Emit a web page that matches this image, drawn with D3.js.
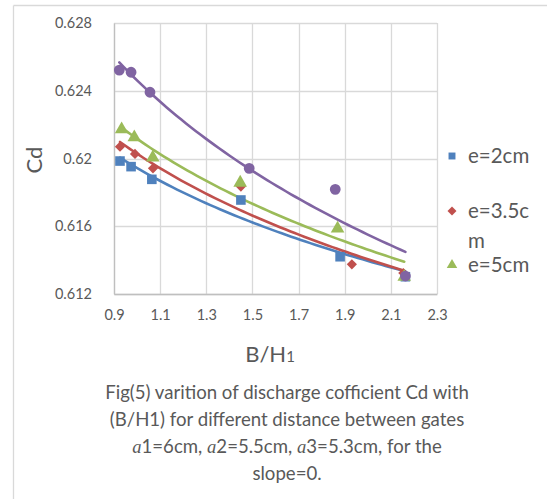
<!DOCTYPE html>
<html><head><meta charset="utf-8">
<script src="https://cdn.jsdelivr.net/npm/d3@7"></script>
<style>
html,body{margin:0;padding:0;background:#fff;}
svg{display:block;font-family:Lato,"Open Sans",sans-serif;}
</style></head>
<body>
<svg id="chart" width="547" height="499"></svg>
<script>
// ---- data ----
const seriesNames = ["e=2cm", "e=3.5cm", "e=5cm", "e=6.5cm"];
const seriesColors = ["#4F81BD", "#C0504D", "#9BBB59", "#8064A2"];
const seriesSymbols = ["square", "diamond", "triangle", "circle"];
const xBlue   = [0.926, 0.974, 1.064, 1.450, 1.880, 2.163];
const yBlue   = [0.61985, 0.61952, 0.61877, 0.61755, 0.61420, 0.61302];
const xRed    = [0.926, 0.991, 1.069, 1.450, 1.931, 2.154];
const yRed    = [0.62070, 0.62027, 0.61942, 0.61834, 0.61375, 0.61324];
const xGreen  = [0.933, 0.988, 1.068, 1.447, 1.869, 2.158];
const yGreen  = [0.62172, 0.62125, 0.62005, 0.61857, 0.61586, 0.61302];
const xPurple = [0.923, 0.974, 1.056, 1.486, 1.859, 2.163];
const yPurple = [0.62522, 0.62509, 0.62391, 0.61942, 0.61818, 0.61306];
const xTicks = [0.9, 1.1, 1.3, 1.5, 1.7, 1.9, 2.1, 2.3];
const yTicks = [0.612, 0.616, 0.620, 0.624, 0.628];
const legendLabels = [["e=2cm"], ["e=3.5c", "m"], ["e=5cm"]];
const captionLines = [
  "Fig(5) varition of discharge cofficient Cd with",
  "(B/H1) for different distance between gates",
  "@1=6cm, @2=5.5cm, @3=5.3cm, for the",
  "slope=0."
];

const series = [
  {x: xBlue, y: yBlue}, {x: xRed, y: yRed}, {x: xGreen, y: yGreen}, {x: xPurple, y: yPurple}
].map((s, i) => ({...s, name: seriesNames[i], color: seriesColors[i], symbol: seriesSymbols[i]}));

// ---- layout ----
const svg = d3.select("#chart");
const pL = 114, pR = 437, pT = 23, pB = 294;
const x = d3.scaleLinear().domain([0.9, 2.3]).range([pL, pR]);
const y = d3.scaleLinear().domain([0.612, 0.628]).range([pB, pT]);
const grid = "#d9d9d9", textCol = "#595959";

// outer chart border (top & left visible)
svg.append("line").attr("x1", 13.5).attr("x2", 547).attr("y1", 5.5).attr("y2", 5.5).attr("stroke", grid).attr("stroke-width", 1.3);
svg.append("line").attr("x1", 13.5).attr("x2", 13.5).attr("y1", 5.5).attr("y2", 499).attr("stroke", grid).attr("stroke-width", 1.3);

// gridlines
svg.append("g").selectAll("line").data(yTicks).join("line")
  .attr("x1", pL).attr("x2", pR).attr("y1", d => Math.round(y(d)) + 0.5).attr("y2", d => Math.round(y(d)) + 0.5)
  .attr("stroke", grid).attr("stroke-width", 1.3);
svg.append("g").selectAll("line").data(xTicks).join("line")
  .attr("y1", pT).attr("y2", pB).attr("x1", d => Math.round(x(d)) + 0.5).attr("x2", d => Math.round(x(d)) + 0.5)
  .attr("stroke", grid).attr("stroke-width", 1.3);

// axes via d3
const xAxis = svg.append("g").attr("transform", `translate(0,${pB})`)
  .call(d3.axisBottom(x).tickValues(xTicks).tickSize(0).tickPadding(16).tickFormat(d3.format(".1f")));
const yAxis = svg.append("g").attr("transform", `translate(${pL},0)`)
  .call(d3.axisLeft(y).tickValues(yTicks).tickSize(0).tickPadding(22).tickFormat(d => d3.format(".3f")(d).replace(/0$/, "")));
[xAxis, yAxis].forEach(a => {
  a.select(".domain").attr("stroke", "#bfbfbf").attr("stroke-width", 1.3);
  a.selectAll("text").attr("fill", textCol).style("font-family", "Lato, sans-serif").style("font-size", "14.5px");
});

// power trendlines (least squares on ln x, ln y, as a spreadsheet power trendline)
function powerFit(xs, ys) {
  const lx = xs.map(Math.log), ly = ys.map(Math.log);
  const mx = d3.mean(lx), my = d3.mean(ly);
  const b = d3.sum(lx, (v, i) => (v - mx) * (ly[i] - my)) / d3.sum(lx, v => (v - mx) * (v - mx));
  const a = Math.exp(my - b * mx);
  return v => a * Math.pow(v, b);
}
const line = d3.line().x(d => x(d[0])).y(d => y(d[1]));
series.forEach(s => {
  const f = powerFit(s.x, s.y);
  const [x0, x1] = d3.extent(s.x);
  const pts = d3.range(0, 61).map(i => { const v = x0 + (x1 - x0) * i / 60; return [v, f(v)]; });
  svg.append("path").datum(pts).attr("d", line).attr("fill", "none")
    .attr("stroke", s.color).attr("stroke-width", 2.6).attr("stroke-linecap", "round");
});

// markers
const symType = {square: d3.symbolSquare, diamond: d3.symbolSquare, triangle: d3.symbolTriangle, circle: d3.symbolCircle};
const symRot = {square: 0, diamond: 45, triangle: 0, circle: 0};
const symSize = {square: 92, diamond: 52, triangle: 80, circle: 92};
series.forEach(s => {
  svg.append("g").selectAll("path").data(s.x.map((v, i) => [v, s.y[i]])).join("path")
    .attr("transform", d => `translate(${x(d[0])},${y(d[1])}) rotate(${symRot[s.symbol]})`)
    .attr("d", d3.symbol().type(symType[s.symbol]).size(symSize[s.symbol]))
    .attr("fill", s.color);
});

// legend
const legY = [156, 211, 265];
const lg = svg.append("g");
legendLabels.forEach((lab, i) => {
  const s = series[i];
  lg.append("path").attr("transform", `translate(452,${legY[i]}) rotate(${symRot[s.symbol]})`)
    .attr("d", d3.symbol().type(symType[s.symbol]).size(s.symbol === "diamond" ? 40 : 48)).attr("fill", s.color);
  const t = lg.append("text").attr("x", 468).attr("y", legY[i])
    .attr("fill", textCol).style("font-size", "20.5px");
  lab.forEach((l, j) => t.append("tspan").attr("x", 468).attr("dy", j === 0 ? "0.35em" : "1.45em").text(l));
});

// axis titles
svg.append("text").attr("transform", "translate(42,160) rotate(-90)").attr("text-anchor", "middle")
  .attr("fill", textCol).style("font-size", "22px").text("Cd");
const xt = svg.append("text").attr("x", 270).attr("y", 362).attr("text-anchor", "middle")
  .attr("fill", textCol).style("font-size", "22px");
xt.append("tspan").text("B/H");
xt.append("tspan").style("font-size", "15px").text("1");

// caption
const capY = [399, 426, 453, 480];
captionLines.forEach((l, i) => {
  const t = svg.append("text").attr("x", 287).attr("y", capY[i]).attr("text-anchor", "middle")
    .attr("fill", textCol).style("font-size", "18.6px");
  l.split("@").forEach((part, j) => {
    if (j > 0) t.append("tspan").style("font-family", "'Liberation Serif', serif").style("font-style", "italic").text("a");
    t.append("tspan").text(part);
  });
});
</script>
</body></html>
